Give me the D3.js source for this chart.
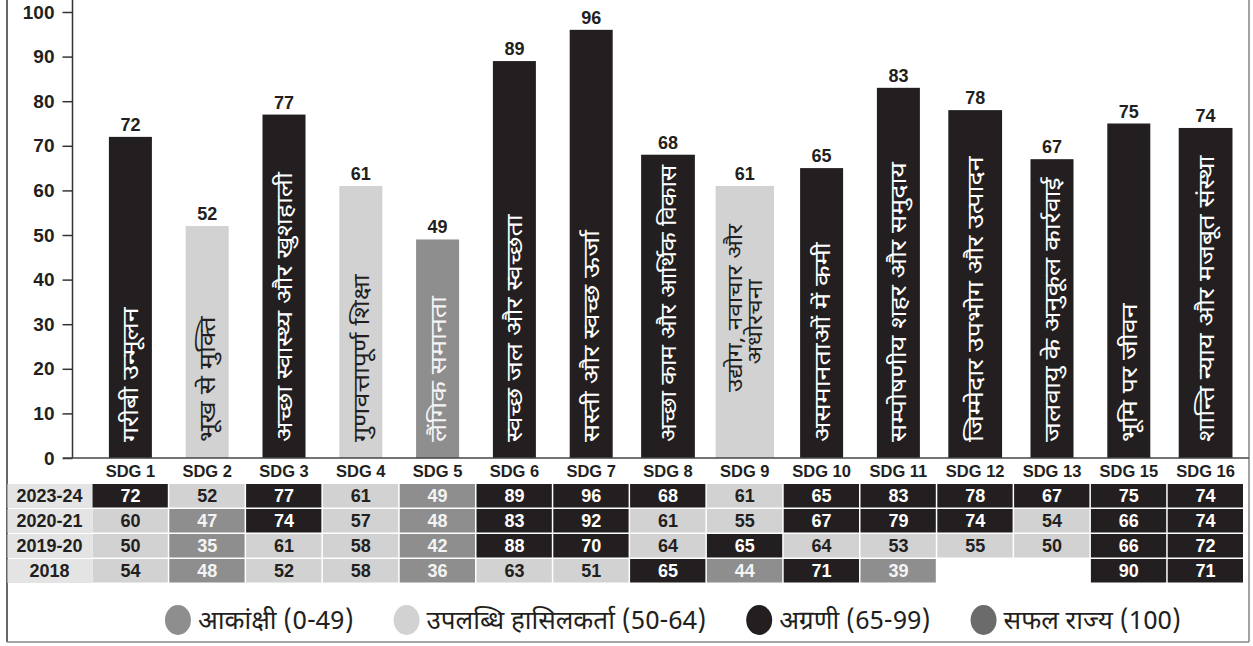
<!DOCTYPE html>
<html><head><meta charset="utf-8">
<script src="https://cdn.jsdelivr.net/npm/d3@7"></script>
<style>
html,body{margin:0;padding:0;background:#fff;}
svg{display:block;}
</style></head>
<body>
<svg id="chart" width="1253" height="646"></svg>
<script>
// ---------- data ----------
const categories = ["SDG 1","SDG 2","SDG 3","SDG 4","SDG 5","SDG 6","SDG 7","SDG 8","SDG 9","SDG 10","SDG 11","SDG 12","SDG 13","SDG 15","SDG 16"];
const goalNames = [
  "गरीबी उन्मूलन","भूख से मुक्ति","अच्छा स्वास्थ्य और खुशहाली","गुणवत्तापूर्ण शिक्षा","लैंगिक समानता",
  "स्वच्छ जल और स्वच्छता","सस्ती और स्वच्छ ऊर्जा","अच्छा काम और आर्थिक विकास","उद्योग, नवाचार और\nअधोरचना",
  "असमानताओं में कमी","सम्पोषणीय शहर और समुदाय","जिम्मेदार उपभोग और उत्पादन","जलवायु के अनुकूल कार्रवाई",
  "भूमि पर जीवन","शान्ति न्याय और मजबूत संस्था"];
const years = ["2023-24","2020-21","2019-20","2018"];
const score2023 = [72,52,77,61,49,89,96,68,61,65,83,78,67,75,74];
const score2020 = [60,47,74,57,48,83,92,61,55,67,79,74,54,66,74];
const score2019 = [50,35,61,58,42,88,70,64,65,64,53,55,50,66,72];
const score2018 = [54,48,52,58,36,63,51,65,44,71,39,null,null,90,71];
const yTicks = [0,10,20,30,40,50,60,70,80,90,100];
const legendLabels = ["आकांक्षी (0-49)","उपलब्धि हासिलकर्ता (50-64)","अग्रणी (65-99)","सफल राज्य (100)"];

// ---------- styles ----------
const catColors = ["#8e8e8e","#d2d2d2","#231f20","#6b6b6b"];
const catText   = ["#f4f4f4","#231f20","#ffffff","#ffffff"];
function catOf(v){ return v >= 100 ? 3 : v >= 65 ? 2 : v >= 50 ? 1 : 0; }
const wideFactor = {"SDG 8":0.70,"SDG 9":0.76,"SDG 12":0.70,"SDG 16":0.70};
const numFont = "'Liberation Sans', Arial, sans-serif";
const hiFont = "'Noto Sans Devanagari','Lohit Devanagari','Mukta','Noto Sans',sans-serif";
const ink = "#231f20";
const stretch = 1.22;

const svg = d3.select("#chart");
const x = d3.scaleBand().domain(categories).range([92, 1244]).padding(0);
const y = d3.scaleLinear().domain([0,100]).range([458, 12]);

// frame
svg.append("line").attr("x1",7).attr("x2",7).attr("y1",0).attr("y2",642).attr("stroke","#333").attr("stroke-width",1.5);
svg.append("line").attr("x1",1249).attr("x2",1249).attr("y1",0).attr("y2",642).attr("stroke","#666").attr("stroke-width",1.2);
svg.append("line").attr("x1",7).attr("x2",1249).attr("y1",642).attr("y2",642).attr("stroke","#888").attr("stroke-width",1.5);

// bars
const bars = svg.append("g");
categories.forEach((c,i)=>{
  const v = score2023[i];
  const w = x.bandwidth() * (wideFactor[c] || 0.56);
  const cx = x(c) + x.bandwidth()/2;
  const k = catOf(v);
  bars.append("rect").attr("x", cx - w/2).attr("y", y(v)).attr("width", w).attr("height", y(0) - y(v))
    .attr("fill", catColors[k]);
  bars.append("text").attr("x", cx).attr("y", y(v) - 6).attr("text-anchor","middle")
    .attr("font-family", numFont).attr("font-weight","bold").attr("font-size",18).attr("fill",ink).text(v);
  const lines = goalNames[i].split("\n");
  if (lines.length === 1) {
    const start = y(0) - 16;
    const t = bars.append("text").attr("text-anchor","start").attr("dy","0.36em")
      .attr("font-family", hiFont).attr("font-size",22).attr("fill", catText[k]).text(lines[0]);
    const raw = t.node().getComputedTextLength();
    const avail = start - (y(v) + 10);
    const s = Math.min(stretch, avail / raw);
    t.attr("transform", `translate(${cx},${start}) rotate(-90) scale(${s},1)`);
  } else {
    const midY = (y(0) + y(v))/2 - 14;
    lines.forEach((ln,j)=>{
      bars.append("text").attr("transform", `translate(${cx + (j - (lines.length-1)/2)*20},${midY + j*14}) rotate(-90) scale(${stretch},1)`)
        .attr("text-anchor","middle").attr("dy","0.36em")
        .attr("font-family", hiFont).attr("font-size",20).attr("fill", catText[k]).text(ln);
    });
  }
});

// y axis
const yAxis = d3.axisLeft(y).tickValues(yTicks).tickSize(10).tickPadding(8).tickSizeOuter(0);
const ya = svg.append("g").attr("transform","translate(72.5,0)").call(yAxis);
ya.select(".domain").attr("stroke","#333").attr("stroke-width",1.5).attr("d","M0,0V458");
ya.selectAll(".tick line").attr("stroke","#333").attr("stroke-width",1.5);
ya.selectAll(".tick text").attr("font-family",numFont).attr("font-weight","bold").attr("font-size",19).attr("fill",ink);
// baseline
svg.append("line").attr("x1",63).attr("x2",1249).attr("y1",y(0)).attr("y2",y(0)).attr("stroke","#444").attr("stroke-width",1.5);

// header labels
const xAxis = d3.axisBottom(x).tickSize(0).tickPadding(0);
const xa = svg.append("g").attr("transform",`translate(0,${y(0)})`).call(xAxis);
xa.select(".domain").remove();
xa.selectAll(".tick text").attr("y",13).attr("dy","0.35em").attr("font-family",numFont).attr("font-weight","bold").attr("font-size",16.5).attr("fill",ink);

// table
const rows = [score2023, score2020, score2019, score2018];
const rowY = d3.scaleBand().domain(years).range([484, 584]).padding(0);
const tbl = svg.append("g");
years.forEach((yr,r)=>{
  const ry = rowY(yr), rh = rowY.bandwidth();
  tbl.append("rect").attr("x",7.5).attr("y",ry).attr("width",92-7.5).attr("height",rh-1).attr("fill","#e4e4e4");
  tbl.append("text").attr("x",49.5).attr("y",ry + rh/2 - 0.5).attr("dy","0.36em").attr("text-anchor","middle")
    .attr("font-family",numFont).attr("font-weight","bold").attr("font-size",18).attr("fill",ink).text(yr);
  categories.forEach((c,i)=>{
    const v = rows[r][i];
    if (v == null) return;
    const k = catOf(v);
    tbl.append("rect").attr("x",x(c)+0.5).attr("y",ry).attr("width",x.bandwidth()-1.5).attr("height",rh-1.5).attr("fill",catColors[k]);
    tbl.append("text").attr("x",x(c)+x.bandwidth()/2).attr("y",ry + rh/2 - 0.5).attr("dy","0.36em").attr("text-anchor","middle")
      .attr("font-family",numFont).attr("font-weight","bold").attr("font-size",18).attr("fill",catText[k]).text(v);
  });
});

// legend
const lg = svg.append("g");
const legY = 620;
const items = [];
legendLabels.forEach((lab,i)=>{
  const g = lg.append("g");
  g.append("ellipse").attr("cx",13).attr("cy",legY).attr("rx",13).attr("ry",15).attr("fill",catColors[i]);
  const t = g.append("text").attr("x",33).attr("y",legY).attr("dy","0.36em")
    .attr("font-family","'Liberation Sans Narrow'," + hiFont).attr("font-size",26).attr("fill",ink).text(lab);
  const w = 33 + t.node().getComputedTextLength();
  items.push({g,w});
});
const gap = 40;
const total = d3.sum(items, d=>d.w) + gap*(items.length-1);
let cur = 673 - total/2;
items.forEach(it=>{ it.g.attr("transform",`translate(${cur},0)`); cur += it.w + gap; });
</script>
</body></html>
